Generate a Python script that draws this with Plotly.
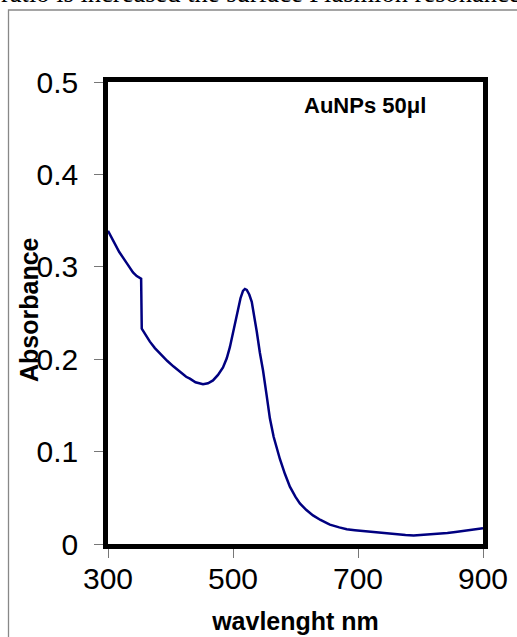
import plotly.graph_objects as go

wavelength = [300, 310, 318, 330, 340, 346, 351, 353, 354, 360, 367, 375, 383, 395, 405,
              415, 425, 431, 440, 452, 460, 468, 476, 484, 490, 495, 500, 506, 512, 516,
              519, 522, 526, 530, 534, 538, 543, 548, 554, 559, 565, 575, 583, 591, 600,
              607, 617, 628, 640, 655, 670, 682, 695, 709, 722, 736, 750, 762, 776, 789,
              803, 816, 829, 843, 856, 869, 882, 895, 900]
absorbance = [0.339, 0.326, 0.316, 0.304, 0.294, 0.290, 0.288, 0.287, 0.233, 0.226, 0.219,
              0.212, 0.206, 0.198, 0.192, 0.186, 0.181, 0.179, 0.175, 0.173, 0.174, 0.177,
              0.183, 0.191, 0.201, 0.213, 0.228, 0.249, 0.266, 0.274, 0.276, 0.275, 0.270,
              0.262, 0.248, 0.230, 0.207, 0.188, 0.160, 0.136, 0.116, 0.092, 0.076, 0.062,
              0.051, 0.044, 0.037, 0.031, 0.026, 0.021, 0.018, 0.016, 0.015, 0.014, 0.013,
              0.012, 0.011, 0.0103, 0.0097, 0.0092, 0.0098, 0.011, 0.0115, 0.012, 0.013,
              0.014, 0.015, 0.0164, 0.017]

x_ticks = [300, 500, 700, 900]
y_ticks = [0, 0.1, 0.2, 0.3, 0.4, 0.5]
y_ticktext = ["0", "0.1", "0.2", "0.3", "0.4", "0.5"]

W, H = 517, 637
ML, MR, MT, MB = 108, 34, 82, 93
PW, PH = W - ML - MR, H - MT - MB


def px_x(p):
    return (p - ML) / PW


def px_y(p):
    return (H - MB - p) / PH


fig = go.Figure()
fig.add_trace(go.Scatter(x=wavelength, y=absorbance, mode="lines",
                         line=dict(color="#000080", width=2.5), showlegend=False))

axis_common = dict(showline=True, linewidth=4.5, linecolor="black", mirror=True,
                   ticks="outside", ticklen=9, tickwidth=1.3, tickcolor="#777777",
                   showgrid=False, zeroline=False, automargin=False,
                   tickfont=dict(family="Arial, Liberation Sans", size=30, color="black"))

fig.update_xaxes(range=[300, 900], tickvals=x_ticks, ticklabelstandoff=-5, **axis_common,
                 title=dict(text="wavlenght nm", standoff=20,
                            font=dict(family="Arial, Liberation Sans", size=25,
                                      color="black", weight="bold")))
fig.update_yaxes(range=[0, 0.5], tickvals=y_ticks, ticktext=y_ticktext,
                 ticklabelstandoff=10, **axis_common)

fig.add_annotation(text="Absorbance", xref="paper", yref="paper",
                   x=px_x(29), y=px_y(310), xanchor="center", yanchor="middle",
                   textangle=-90, showarrow=False,
                   font=dict(family="Arial, Liberation Sans", size=25, color="black",
                             weight="bold"))
fig.add_annotation(text="AuNPs 50\u03bcl", xref="paper", yref="paper",
                   x=px_x(365), y=px_y(105), xanchor="center", yanchor="middle",
                   showarrow=False,
                   font=dict(family="Arial, Liberation Sans", size=22, color="black",
                             weight="bold"))
fig.add_annotation(text="ratio is increased the surface Plasmion resonance",
                   xref="paper", yref="paper", x=px_x(-1), y=px_y(10),
                   xanchor="left", yanchor="bottom", showarrow=False,
                   font=dict(family="Liberation Serif, Times New Roman", size=26.5,
                             color="black"))

fig.add_shape(type="rect", xref="paper", yref="paper",
              x0=px_x(8.5), x1=px_x(560), y0=px_y(10), y1=px_y(700),
              line=dict(color="#888888", width=1.3), fillcolor="rgba(0,0,0,0)",
              layer="below")

fig.update_layout(width=W, height=H, margin=dict(l=ML, r=MR, t=MT, b=MB, autoexpand=False),
                  paper_bgcolor="white", plot_bgcolor="white")

fig.write_html("out.html", config={"displayModeBar": False},
               post_script="document.body.style.margin='0';")
